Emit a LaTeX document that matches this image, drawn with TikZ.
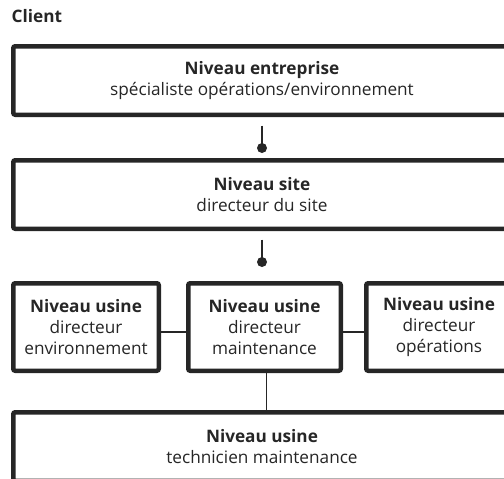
\documentclass[tikz,border=0pt]{standalone}
\usepackage{fontspec}
\setmainfont{Open Sans}
\definecolor{ink}{HTML}{262626}

\begin{document}
\begin{tikzpicture}[x=1pt, y=-1pt,
    every node/.style={text=ink, font=\fontsize{17.2}{20.8}\selectfont},
    levelbox/.style={draw=ink, line width=4.5pt, rounded corners=2pt, align=center, inner sep=0pt},
    widebox/.style={levelbox, minimum width=497.5pt, minimum height=68.5pt},
    plantbox/.style={levelbox, minimum height=87.5pt},
    link/.style={draw=ink, line width=1.3pt}]
    \useasboundingbox (0,0) rectangle (504,479);

    % Title
    \node[anchor=base west, inner sep=0pt] (client) at (11.5,22.7) {\textbf{Client}};

    % Company and site level
    \node[widebox] (ent) at (262,80.5) {\textbf{Niveau entreprise}\\spécialiste opérations/environnement};
    \node[widebox] (site) at (262,194.5) {\textbf{Niveau site}\\directeur du site};

    % Plant level, three managers
    \node[plantbox, minimum width=145.5pt] (env) at (86,327) {\textbf{Niveau usine}\\directeur\\environnement};
    \node[plantbox, minimum width=152.5pt] (mnt) at (264.5,327) {\textbf{Niveau usine}\\directeur\\maintenance};
    \node[plantbox, minimum width=145.5pt] (ops) at (439,327) {\textbf{Niveau usine}\\directeur\\opérations};

    % Plant level, technician
    \node[widebox] (tech) at (262,446.5) {\textbf{Niveau usine}\\technicien maintenance};

    % Links with dots
    \coordinate (dotA) at (262,148);
    \coordinate (dotB) at (262,262);
    \draw[link] ([yshift=-8.5pt]ent.south) -- (dotA);
    \fill[ink] (dotA) circle (5pt);
    \draw[link] ([yshift=-8.5pt]site.south) -- (dotB);
    \fill[ink] (dotB) circle (5pt);

    % Plain links
    \draw[link] ([yshift=-5pt]env.east) -- ([yshift=-5pt]mnt.west);
    \draw[link] ([yshift=-5pt]mnt.east) -- ([yshift=-5pt]ops.west);
    \draw[link] ([xshift=2pt]mnt.south) -- ([xshift=2pt]mnt.south |- tech.north);
\end{tikzpicture}
\end{document}
